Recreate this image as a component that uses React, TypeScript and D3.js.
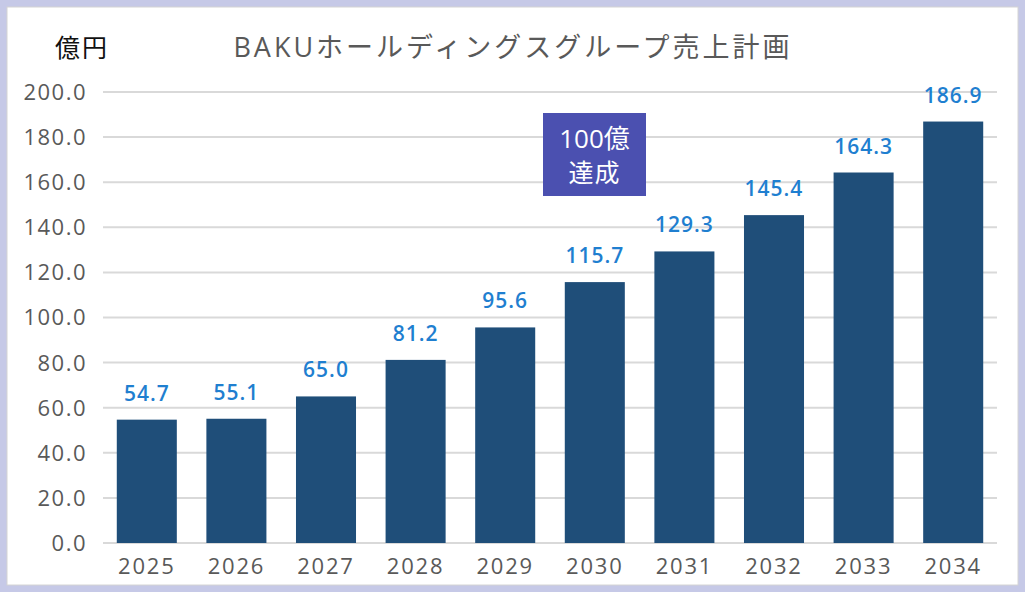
import React from "react";
import * as d3 from "d3";

const years = ["2025", "2026", "2027", "2028", "2029", "2030", "2031", "2032", "2033", "2034"];
const sales = [54.7, 55.1, 65.0, 81.2, 95.6, 115.7, 129.3, 145.4, 164.3, 186.9];
const yTicks = [0, 20, 40, 60, 80, 100, 120, 140, 160, 180, 200];
const title = "BAKUホールディングスグループ売上計画";
const unit = "億円";
const badgeLines = ["100億", "達成"];

const W = 1025;
const H = 592;
const margin = { left: 102, right: 27, top: 92, bottom: 49 };
const FONT = "'Open Sans', 'Noto Sans CJK JP', sans-serif";
const CJK = "'Noto Sans CJK JP', sans-serif";

export default function App() {
  const x = d3
    .scaleBand<string>()
    .domain(years)
    .range([margin.left, W - margin.right])
    .paddingInner(0.33)
    .paddingOuter(0.165);
  const y = d3.scaleLinear().domain([0, 200]).range([H - margin.bottom, margin.top]);

  return (
    <div style={{ position: "absolute", left: 0, top: 0 }}>
      <svg width={W} height={H} style={{ display: "block" }}>
        <rect x={0} y={0} width={W} height={H} fill="#c6c9e7" />
        <rect x={7} y={7} width={W - 14} height={H - 14} fill="#ffffff" stroke="#d4d4d4" strokeWidth={1} />
        <text x={55} y={57} fontFamily={CJK} fontSize={25} letterSpacing={2} fill="#111">{unit}</text>
        <text x={513} y={57} textAnchor="middle" fontFamily={FONT} fontSize={27} letterSpacing={3} fill="#595959">{title}</text>
        {yTicks.map((t) => (
          <g key={t}>
            <line x1={103} x2={997} y1={y(t)} y2={y(t)} stroke="#d9d9d9" strokeWidth={2} />
            <text x={87} y={y(t)} dy="0.36em" textAnchor="end" fontFamily={FONT} fontSize={22} letterSpacing={1.5} fill="#595959">
              {t.toFixed(1)}
            </text>
          </g>
        ))}
        {years.map((yr, i) => (
          <g key={yr}>
            <rect x={x(yr)} y={y(sales[i])} width={x.bandwidth()} height={y(0) - y(sales[i])} fill="#1f4e79" />
            <text x={(x(yr) ?? 0) + x.bandwidth() / 2} y={y(sales[i]) - 19} textAnchor="middle" fontFamily={FONT} fontSize={21} fontWeight={600} letterSpacing={1} fill="#1f7fd0">
              {sales[i].toFixed(1)}
            </text>
            <text x={(x(yr) ?? 0) + x.bandwidth() / 2} y={574} textAnchor="middle" fontFamily={FONT} fontSize={22} letterSpacing={1.8} fill="#595959">
              {yr}
            </text>
          </g>
        ))}
        <rect x={543} y={113} width={103} height={83} fill="#4b50b0" />
        <text x={594.5} y={148} textAnchor="middle" fontFamily={FONT} fontSize={26} fill="#fff">{badgeLines[0]}</text>
        <text x={594.5} y={182} textAnchor="middle" fontFamily={CJK} fontSize={25} letterSpacing={1} fill="#fff">{badgeLines[1]}</text>
      </svg>
    </div>
  );
}
